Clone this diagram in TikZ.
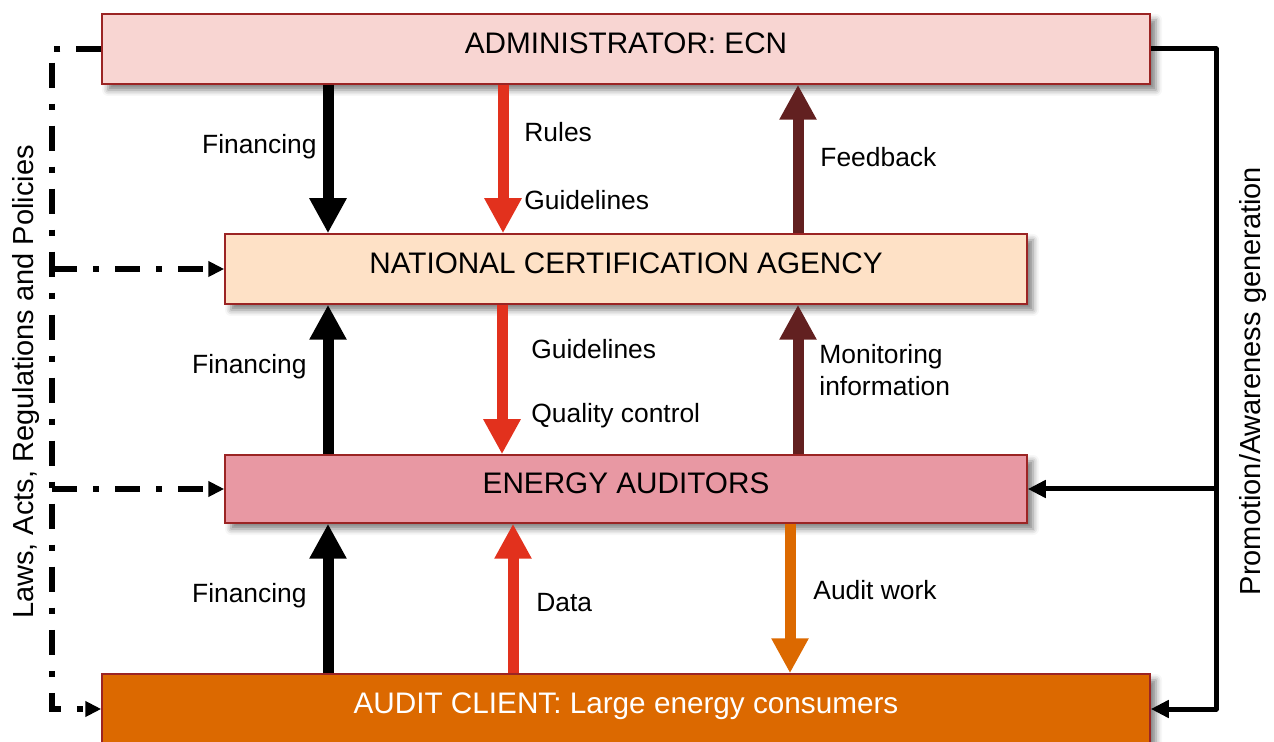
\documentclass[tikz,border=0pt]{standalone}
\usepackage{fontspec}
\setmainfont{Liberation Sans}
\usetikzlibrary{arrows.meta,shadows.blur}
\definecolor{adminfill}{HTML}{F8D5D2}
\definecolor{agencyfill}{HTML}{FEE1C6}
\definecolor{auditorfill}{HTML}{E898A3}
\definecolor{clientfill}{HTML}{DC6900}
\definecolor{boxline}{HTML}{9B2424}
\definecolor{rulered}{HTML}{E2311D}
\definecolor{feedbrown}{HTML}{622020}

\begin{document}
\begin{tikzpicture}[x=0.5pt,y=-0.5pt,
  box/.style={draw=boxline,line width=0.75pt,minimum height=35pt,text depth=6pt,inner sep=0pt,
    font=\fontsize{14.85}{17.5}\selectfont,
    blur shadow={shadow xshift=3pt,shadow yshift=-3pt,shadow blur radius=3pt,shadow opacity=50}},
  flow/.style={line width=5.5pt,-{Triangle[length=17.5pt,width=17.5pt]}},
  lbl/.style={inner sep=0pt,font=\fontsize{13.2}{15.8}\selectfont},
  side/.style={rotate=90,anchor=base,inner sep=0pt,font=\fontsize{14.5}{17}\selectfont},
  law/.style={line width=3pt,dash pattern=on 12.5pt off 8pt on 3pt off 8pt,-{Triangle[length=8pt,width=7.5pt]}},
  promo/.style={line width=2.5pt,line join=round,-{Triangle[length=9pt,width=8.5pt]}}]
  \useasboundingbox (0,0) rectangle (1274,742);

  % the four levels
  \node[box,fill=adminfill,minimum width=524pt] (admin) at (626,49) {ADMINISTRATOR: ECN};
  \node[box,fill=agencyfill,minimum width=401pt] (agency) at (626,269) {NATIONAL CERTIFICATION AGENCY};
  \node[box,fill=auditorfill,minimum width=401pt,minimum height=34pt] (auditors) at (626,489) {ENERGY AUDITORS};
  \node[box,fill=clientfill,minimum width=524pt,text=white] (client) at (626,709) {AUDIT CLIENT: Large energy consumers};

  % flows between levels
  \draw[flow,black] (328,0 |- admin.south) -- (328,0 |- agency.north);
  \draw[flow,rulered] (503,0 |- admin.south) -- (503,0 |- agency.north);
  \draw[flow,feedbrown] (798,0 |- agency.north) -- (798,0 |- admin.south);
  \draw[flow,black] (328,0 |- auditors.north) -- (328,0 |- agency.south);
  \draw[flow,rulered] (502,0 |- agency.south) -- (502,0 |- auditors.north);
  \draw[flow,feedbrown] (798,0 |- auditors.north) -- (798,0 |- agency.south);
  \draw[flow,black] (328,0 |- client.north) -- (328,0 |- auditors.south);
  \draw[flow,rulered] (513,0 |- client.north) -- (513,0 |- auditors.south);
  \draw[flow,clientfill] (790,0 |- auditors.south) -- (790,0 |- client.north);

  \node[lbl,anchor=east] (fin1) at (317,147) {Financing};
  \node[lbl,anchor=west] (rules) at (524,132) {Rules};
  \node[lbl,anchor=west] (guide1) at (524,200) {Guidelines};
  \node[lbl,anchor=west] (feedback) at (820,157) {Feedback};
  \node[lbl,anchor=east] (fin2) at (307,367) {Financing};
  \node[lbl,anchor=west] (guide2) at (531,349) {Guidelines};
  \node[lbl,anchor=west] (quality) at (531,416) {Quality control};
  \node[lbl,anchor=west,align=left] (monitor) at (819,370) {Monitoring\\information};
  \node[lbl,anchor=east] (fin3) at (307,596) {Financing};
  \node[lbl,anchor=west] (data) at (536,603) {Data};
  \node[lbl,anchor=west] (auditwork) at (813,590) {Audit work};

  % laws on the left, promotion on the right
  \coordinate (lawbus) at (52,0);
  \coordinate (promobus) at (1216,0);
  \draw[law] (admin.west) -- (lawbus |- admin.west) -- (lawbus |- client.west) -- (client.west);
  \draw[law] (lawbus |- agency.west) -- (agency.west);
  \draw[law] (lawbus |- auditors.west) -- (auditors.west);
  \draw[promo] (admin.east) -- (promobus |- admin.east) -- (promobus |- client.east) -- (client.east);
  \draw[promo] (promobus |- auditors.east) -- (auditors.east);

  \node[side] (laws) at (33,382) {Laws, Acts, Regulations and Policies};
  \node[side] (promotion) at (1260,381) {Promotion/Awareness generation};
\end{tikzpicture}
\end{document}
